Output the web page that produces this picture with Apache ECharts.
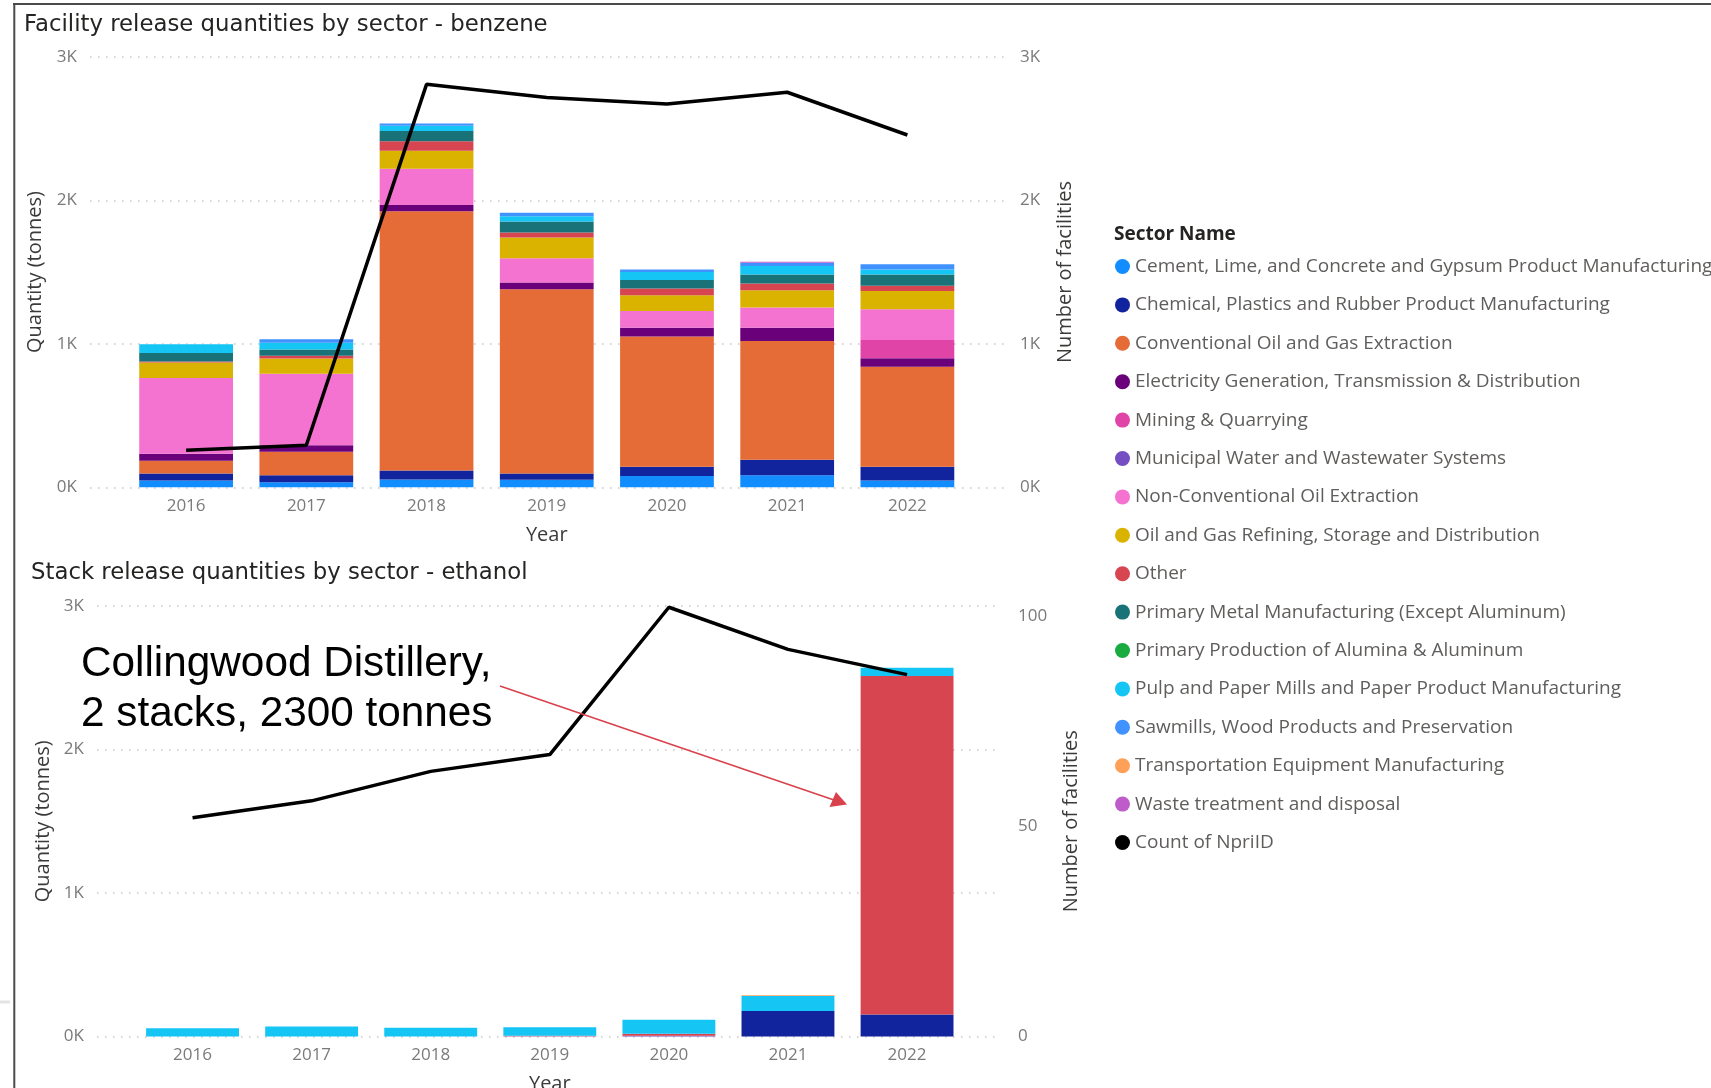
<!DOCTYPE html>
<html>
<head>
<meta charset="utf-8">
<style>
  html, body { margin: 0; padding: 0; background: #ffffff; }
  #chart { width: 1711px; height: 1088px; }
</style>
<script src="https://cdn.jsdelivr.net/npm/echarts@6/dist/echarts.min.js"></script>
</head>
<body>
<div id="chart"></div>
<script>
// ---------------- DATA ----------------
const years = ['2016', '2017', '2018', '2019', '2020', '2021', '2022'];

const sectorNames = [
  'Cement, Lime, and Concrete and Gypsum Product Manufacturing',
  'Chemical, Plastics and Rubber Product Manufacturing',
  'Conventional Oil and Gas Extraction',
  'Electricity Generation, Transmission & Distribution',
  'Mining & Quarrying',
  'Municipal Water and Wastewater Systems',
  'Non-Conventional Oil Extraction',
  'Oil and Gas Refining, Storage and Distribution',
  'Other',
  'Primary Metal Manufacturing (Except Aluminum)',
  'Primary Production of Alumina & Aluminum',
  'Pulp and Paper Mills and Paper Product Manufacturing',
  'Sawmills, Wood Products and Preservation',
  'Transportation Equipment Manufacturing',
  'Waste treatment and disposal'
];
const countName = 'Count of NpriID';

// Benzene facility releases (tonnes), one array per sector, by year
const benzeneCement        = [48, 36, 55, 53, 79, 84, 48];
const benzeneChemical      = [48, 48, 62, 43, 65, 108, 96];
const benzeneConvOilGas    = [89, 163, 1807, 1284, 907, 828, 696];
const benzeneElectricity   = [48, 46, 43, 48, 60, 91, 60];
const benzeneMining        = [0, 0, 0, 0, 0, 0, 127];
const benzeneMunicipal     = [0, 0, 0, 0, 0, 0, 0];
const benzeneNonConvOil    = [528, 499, 252, 168, 118, 142, 214];
const benzeneRefining      = [108, 106, 127, 144, 110, 120, 127];
const benzeneOther         = [7, 19, 65, 36, 46, 48, 36];
const benzenePrimaryMetal  = [60, 43, 72, 77, 60, 62, 79];
const benzeneAlumina       = [0, 0, 0, 0, 0, 0, 0];
const benzenePulpPaper     = [60, 48, 36, 36, 55, 60, 34];
const benzeneSawmills      = [0, 24, 17, 24, 17, 22, 38];
const benzeneTransport     = [0, 0, 0, 0, 0, 0, 0];
const benzeneWaste         = [0, 0, 0, 0, 0, 6, 0];
const benzeneFacilityCount = [259, 293, 2808, 2717, 2671, 2753, 2455];

// Ethanol stack releases (tonnes)
const ethanolCement        = [0, 0, 0, 0, 0, 0, 0];
const ethanolChemical      = [0, 0, 0, 0, 0, 178, 154];
const ethanolConvOilGas    = [0, 0, 0, 0, 0, 0, 0];
const ethanolElectricity   = [0, 0, 0, 0, 0, 0, 0];
const ethanolMining        = [0, 0, 0, 0, 0, 0, 0];
const ethanolMunicipal     = [0, 0, 0, 2, 5, 0, 0];
const ethanolNonConvOil    = [0, 0, 0, 0, 0, 0, 0];
const ethanolRefining      = [0, 0, 0, 0, 0, 0, 0];
const ethanolOther         = [0, 0, 0, 3, 15, 0, 2359];
const ethanolPrimaryMetal  = [0, 0, 0, 0, 0, 0, 0];
const ethanolAlumina       = [0, 0, 0, 0, 0, 0, 0];
const ethanolPulpPaper     = [57, 69, 61, 60, 97, 105, 56];
const ethanolSawmills      = [0, 0, 0, 0, 0, 0, 0];
const ethanolTransport     = [0, 0, 0, 0, 0, 5, 0];
const ethanolWaste         = [0, 0, 0, 0, 0, 0, 0];
const ethanolFacilityCount = [52, 56, 63, 67, 102, 92, 86];

const qtyTicks = [0, 1000, 2000, 3000];      // shown as 0K..3K
const ethanolCountTicks = [0, 50, 100];

// ---------------- STYLE ----------------
const sectorColors = ['#118DFF', '#12239E', '#E66C37', '#6B007B', '#E044A7', '#744EC2',
  '#F472D0', '#D9B300', '#D64550', '#197278', '#1AAB40', '#15C6F4', '#4092FF', '#FFA058', '#BE5DC9'];

const benzeneSeries = [benzeneCement, benzeneChemical, benzeneConvOilGas, benzeneElectricity,
  benzeneMining, benzeneMunicipal, benzeneNonConvOil, benzeneRefining, benzeneOther,
  benzenePrimaryMetal, benzeneAlumina, benzenePulpPaper, benzeneSawmills, benzeneTransport, benzeneWaste];
const ethanolSeries = [ethanolCement, ethanolChemical, ethanolConvOilGas, ethanolElectricity,
  ethanolMining, ethanolMunicipal, ethanolNonConvOil, ethanolRefining, ethanolOther,
  ethanolPrimaryMetal, ethanolAlumina, ethanolPulpPaper, ethanolSawmills, ethanolTransport, ethanolWaste];

const FONT = "'Open Sans', 'Noto Sans', sans-serif";
const TITLE_FONT = "'DejaVu Sans', sans-serif";
const tickColor = '#7a7a7a';
const nameColor = '#3b3a39';
const gridDots = { color: '#c8c6c4', width: 1.5, type: [1.5, 6.5] };

const kFmt = v => (qtyTicks.indexOf(v) >= 0 ? (v / 1000) + 'K' : '');

const chart = echarts.init(document.getElementById('chart'), null, { renderer: 'canvas' });

const series = [];
sectorNames.forEach((name, i) => {
  series.push({
    name: name, type: 'bar', stack: 'benzene',
    xAxisIndex: 1, yAxisIndex: 1,
    barCategoryGap: '22%',
    itemStyle: { color: sectorColors[i] },
    data: benzeneSeries[i]
  });
});
sectorNames.forEach((name, i) => {
  series.push({
    name: name, type: 'bar', stack: 'ethanol',
    xAxisIndex: 3, yAxisIndex: 4,
    barCategoryGap: '22%',
    itemStyle: { color: sectorColors[i] },
    data: ethanolSeries[i]
  });
});
series.push({
  name: countName, type: 'line', xAxisIndex: 1, yAxisIndex: 2,
  showSymbol: false, symbol: 'circle', z: 5,
  itemStyle: { color: '#000000' },
  lineStyle: { color: '#000000', width: 3.5 },
  data: benzeneFacilityCount
});
series.push({
  name: countName, type: 'line', xAxisIndex: 3, yAxisIndex: 5,
  showSymbol: false, symbol: 'circle', z: 5,
  itemStyle: { color: '#000000' },
  lineStyle: { color: '#000000', width: 3.5 },
  data: ethanolFacilityCount
});

const hiddenValueX = { type: 'value', min: 0, max: 1, show: false };

const option = {
  animation: false,
  backgroundColor: '#ffffff',
  textStyle: { fontFamily: FONT },
  title: [
    { text: 'Facility release quantities by sector - benzene', left: 24, top: 13.5, padding: 0,
      textStyle: { fontFamily: TITLE_FONT, fontSize: 22.8, fontWeight: 'normal', color: '#252423' } },
    { text: 'Stack release quantities by sector - ethanol', left: 31, top: 562, padding: 0,
      textStyle: { fontFamily: TITLE_FONT, fontSize: 22.8, fontWeight: 'normal', color: '#252423' } },
    { text: 'Sector Name', left: 1114, top: 225.5, padding: 0,
      textStyle: { fontFamily: FONT, fontSize: 19, fontWeight: 'bold', color: '#252423' } }
  ],
  legend: {
    orient: 'vertical', left: 1115, top: 256.5, padding: 0,
    icon: 'circle', itemWidth: 15, itemHeight: 15, itemGap: 18.4,
    textStyle: { fontFamily: FONT, fontSize: 19, lineHeight: 20, color: '#605e5c' },
    data: sectorNames.concat([countName])
  },
  grid: [
    { left: 90, right: 1711 - 1005, top: 56.8, height: 430.5, outerBoundsMode: 'none', containLabel: false },    // top: gridlines
    { left: 126, right: 1711 - 967.5, top: 56.8, height: 430.5, outerBoundsMode: 'none', containLabel: false },  // top: bars
    { left: 97, right: 1711 - 1001, top: 606, height: 430.5, outerBoundsMode: 'none', containLabel: false },     // bottom: gridlines
    { left: 133, right: 1711 - 966.6, top: 606, height: 430.5, outerBoundsMode: 'none', containLabel: false }    // bottom: bars
  ],
  xAxis: [
    Object.assign({ gridIndex: 0 }, hiddenValueX),
    { type: 'category', gridIndex: 1, data: years,
      axisLine: { show: false }, axisTick: { show: false },
      axisLabel: { color: tickColor, fontSize: 17, margin: 10.5 },
      name: 'Year', nameLocation: 'middle', nameGap: 37.5,
      nameTextStyle: { color: nameColor, fontSize: 20 } },
    Object.assign({ gridIndex: 2 }, hiddenValueX),
    { type: 'category', gridIndex: 3, data: years,
      axisLine: { show: false }, axisTick: { show: false },
      axisLabel: { color: tickColor, fontSize: 17, margin: 10.5 },
      name: 'Year', nameLocation: 'middle', nameGap: 37.5,
      nameTextStyle: { color: nameColor, fontSize: 20 } }
  ],
  yAxis: [
    { type: 'value', gridIndex: 0, min: 0, max: 3000, interval: 1000, position: 'left',
      axisLine: { show: false }, axisTick: { show: false },
      axisLabel: { color: tickColor, fontSize: 17, margin: 13, formatter: kFmt },
      splitLine: { show: true, lineStyle: gridDots },
      name: 'Quantity (tonnes)', nameLocation: 'middle', nameGap: 45,
      nameTextStyle: { color: nameColor, fontSize: 20 } },
    { type: 'value', gridIndex: 1, min: 0, max: 3000, interval: 1000, show: false },
    { type: 'value', gridIndex: 1, min: 0, max: 3000, interval: 1000, position: 'right', offset: 37.5,
      axisLine: { show: false }, axisTick: { show: false }, splitLine: { show: false },
      axisLabel: { color: tickColor, fontSize: 17, margin: 15, formatter: kFmt },
      name: 'Number of facilities', nameLocation: 'middle', nameGap: 50.5,
      nameTextStyle: { color: nameColor, fontSize: 20 } },
    { type: 'value', gridIndex: 2, min: 0, max: 3000, interval: 1000, position: 'left',
      axisLine: { show: false }, axisTick: { show: false },
      axisLabel: { color: tickColor, fontSize: 17, margin: 13, formatter: kFmt },
      splitLine: { show: true, lineStyle: gridDots },
      name: 'Quantity (tonnes)', nameLocation: 'middle', nameGap: 41.5,
      nameTextStyle: { color: nameColor, fontSize: 20 } },
    { type: 'value', gridIndex: 3, min: 0, max: 3000, interval: 1000, show: false },
    { type: 'value', gridIndex: 3, min: 0, max: 102.3, interval: 50, position: 'right', offset: 34.4,
      axisLine: { show: false }, axisTick: { show: false }, splitLine: { show: false },
      axisLabel: { color: tickColor, fontSize: 17, margin: 17,
        formatter: v => (ethanolCountTicks.indexOf(v) >= 0 ? String(v) : '') },
      name: 'Number of facilities', nameLocation: 'middle', nameGap: 60,
      nameTextStyle: { color: nameColor, fontSize: 20 } }
  ],
  series: series,
  graphic: [
    // frame lines
    { type: 'line', shape: { x1: 13, y1: 4, x2: 1711, y2: 4 }, style: { stroke: '#4a4a4a', lineWidth: 2 }, silent: true },
    { type: 'line', shape: { x1: 14.3, y1: 3, x2: 14.3, y2: 1088 }, style: { stroke: '#4a4a4a', lineWidth: 2 }, silent: true },
    { type: 'line', shape: { x1: 0, y1: 1002, x2: 10, y2: 1002 }, style: { stroke: '#e4e4e4', lineWidth: 3 }, silent: true },
    // annotation
    { type: 'text', left: 81, top: 639, z: 20,
      style: { text: 'Collingwood Distillery,\n2 stacks, 2300 tonnes', font: "42.3px 'Liberation Sans', Arial, sans-serif",
        fill: '#000000', lineHeight: 50 } },
    { type: 'line', z: 20, shape: { x1: 500, y1: 686, x2: 834, y2: 800 },
      style: { stroke: '#d9414c', lineWidth: 1.6 }, silent: true },
    { type: 'polygon', z: 20, shape: { points: [[847, 804.5], [829.5, 807], [836, 792]] },
      style: { fill: '#d9414c' }, silent: true }
  ]
};

chart.setOption(option);
</script>
</body>
</html>
